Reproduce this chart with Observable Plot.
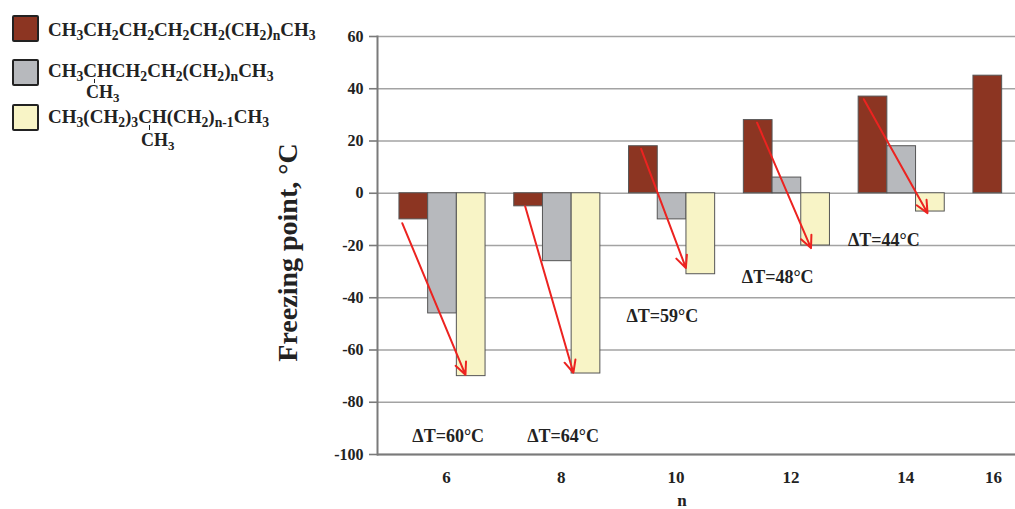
<!DOCTYPE html>
<html><head><meta charset="utf-8">
<script src="https://cdn.jsdelivr.net/npm/d3@7"></script>
<script src="https://cdn.jsdelivr.net/npm/@observablehq/plot@0.6"></script>
<style>
html,body{margin:0;padding:0;overflow:hidden;background:#fff;width:1015px;height:509px}
#wrap{position:relative;width:1015px;height:509px;overflow:hidden}
#legend{position:absolute;left:0;top:0;width:340px;height:160px;font-family:"Liberation Serif",serif;font-weight:bold;font-size:19px;color:#222;z-index:2}
.sw{position:absolute;left:12px;width:27px;height:27px;border:2px solid #222;box-sizing:border-box;border-radius:2px}
.t{position:absolute;white-space:nowrap;line-height:1;letter-spacing:0}
.t sub{font-size:0.72em;vertical-align:-0.3em;line-height:0}
.small{font-size:18px}
.tick{position:absolute;width:1px;background:#222}
#chart{position:absolute;left:0;top:0}
</style></head>
<body><div id="wrap">
<div id="legend"></div>
<div id="chart"></div>
</div>
<script>
// ---- data ----
const nValues = [6, 8, 10, 12, 14, 16];
const seriesNames = ["linear", "2-methyl", "4-methyl"];
const seriesColors = ["#8c3522", "#b7b9bd", "#f8f4c6"];
const linearFP = [-10, -5, 18, 28, 37, 45];
const methyl2FP = [-46, -26, -10, 6, 18, null];
const methyl4FP = [-70, -69, -31, -20, -7, null];
const yTicks = [-100, -80, -60, -40, -20, 0, 20, 40, 60];
const xTicksMain = [6, 8, 10, 12, 14];
const xTicksLast = [16];

// arrows (data units)
const arrowX1 = [5.30, 7.44, 9.46, 11.48, 13.34];
const arrowY1 = [-11.5, -5, 17, 27, 36];
const arrowX2 = [6.40, 8.28, 10.24, 12.42, 14.45];
const arrowY2 = [-69.5, -68.7, -28.6, -21, -7.6];

// ΔT labels
const dtText = ["ΔT=60°C", "ΔT=64°C", "ΔT=59°C", "ΔT=48°C", "ΔT=44°C"];
const dtX = [6.10, 8.10, 9.83, 11.84, 13.69];
const dtY = [-93, -93, -47, -32, -18];

// ---- legend ----
const legend = document.getElementById("legend");
legend.innerHTML = `
<div class="sw" style="top:15px;background:${seriesColors[0]}"></div>
<div class="t" style="left:48px;top:20px">CH<sub>3</sub>CH<sub>2</sub>CH<sub>2</sub>CH<sub>2</sub>CH<sub>2</sub>(CH<sub>2</sub>)<sub>n</sub>CH<sub>3</sub></div>
<div class="sw" style="top:59px;background:${seriesColors[1]}"></div>
<div class="t" style="left:48px;top:61px">CH<sub>3</sub>CHCH<sub>2</sub>CH<sub>2</sub>(CH<sub>2</sub>)<sub>n</sub>CH<sub>3</sub></div>
<div class="tick" style="left:94px;top:79px;height:4px"></div>
<div class="t small" style="left:86px;top:83px">CH<sub>3</sub></div>
<div class="sw" style="top:104px;background:${seriesColors[2]}"></div>
<div class="t" style="left:48px;top:107px">CH<sub>3</sub>(CH<sub>2</sub>)<sub>3</sub>CH(CH<sub>2</sub>)<sub>n-1</sub>CH<sub>3</sub></div>
<div class="tick" style="left:149px;top:125px;height:5px"></div>
<div class="t small" style="left:141px;top:131px">CH<sub>3</sub></div>
`;

// ---- rows ----
const seriesValues = [linearFP, methyl2FP, methyl4FP];
const rows = [];
nValues.forEach((n, i) => {
  seriesValues.forEach((vals, k) => {
    if (vals[i] != null) rows.push({n, series: seriesNames[k], value: vals[i], x1: n - 0.75 + 0.5 * k, x2: n - 0.25 + 0.5 * k});
  });
});
const arrows = arrowX1.map((x, i) => ({x1: x, y1: arrowY1[i], x2: arrowX2[i], y2: arrowY2[i]}));
const dts = dtText.map((t, i) => ({t, x: dtX[i], y: dtY[i]}));
const fmt = d => String(d);

const chart = Plot.plot({
  width: 1082,
  height: 509,
  marginLeft: 377,
  marginRight: 0,
  marginTop: 36,
  marginBottom: 55,
  style: {maxWidth: "none", fontFamily: "'Liberation Serif', serif", fontWeight: "bold", fontSize: "16px", color: "#222", background: "transparent"},
  x: {domain: [6, 16], range: [442, 1016]},
  y: {domain: [-100, 60]},
  color: {domain: seriesNames, range: seriesColors},
  marks: [
    Plot.gridY({ticks: yTicks, stroke: "#a3a3a3", strokeOpacity: 1, strokeWidth: 1.6}),
    Plot.ruleY([-100], {stroke: "#7a7a7a", strokeWidth: 2}),
    Plot.frame({anchor: "left", stroke: "#7a7a7a", strokeWidth: 2}),
    Plot.axisY({ticks: yTicks, tickFormat: fmt, tickSize: 8, tickPadding: 6, label: null, stroke: "#7a7a7a", strokeWidth: 1.6, fontSize: 16}),
    Plot.axisX({ticks: xTicksMain, tickFormat: fmt, tickSize: 0, tickPadding: 16, dx: 4, label: null, fontSize: 17}),
    Plot.axisX({ticks: xTicksLast, tickFormat: fmt, tickSize: 0, tickPadding: 16, dx: -23, label: null, fontSize: 17}),
    Plot.rect(rows, {x1: "x1", x2: "x2", y1: () => 0, y2: "value", fill: "series", stroke: "#555", strokeWidth: 1}),
    Plot.arrow(arrows, {x1: "x1", y1: "y1", x2: "x2", y2: "y2", stroke: "#ec2320", strokeWidth: 2, headLength: 10, headAngle: 50}),
    Plot.text(dts, {x: "x", y: "y", text: "t", fontSize: 18, fill: "#222"}),
    Plot.text(["Freezing point, °C"], {frameAnchor: "left", textAnchor: "middle", rotate: -90, dx: -89, dy: 7, fontSize: 28, fill: "#222"}),
    Plot.text(["n"], {frameAnchor: "bottom", dx: -48, dy: 51, fontSize: 17, fill: "#222"})
  ]
});
document.getElementById("chart").appendChild(chart);
</script>
</body></html>
